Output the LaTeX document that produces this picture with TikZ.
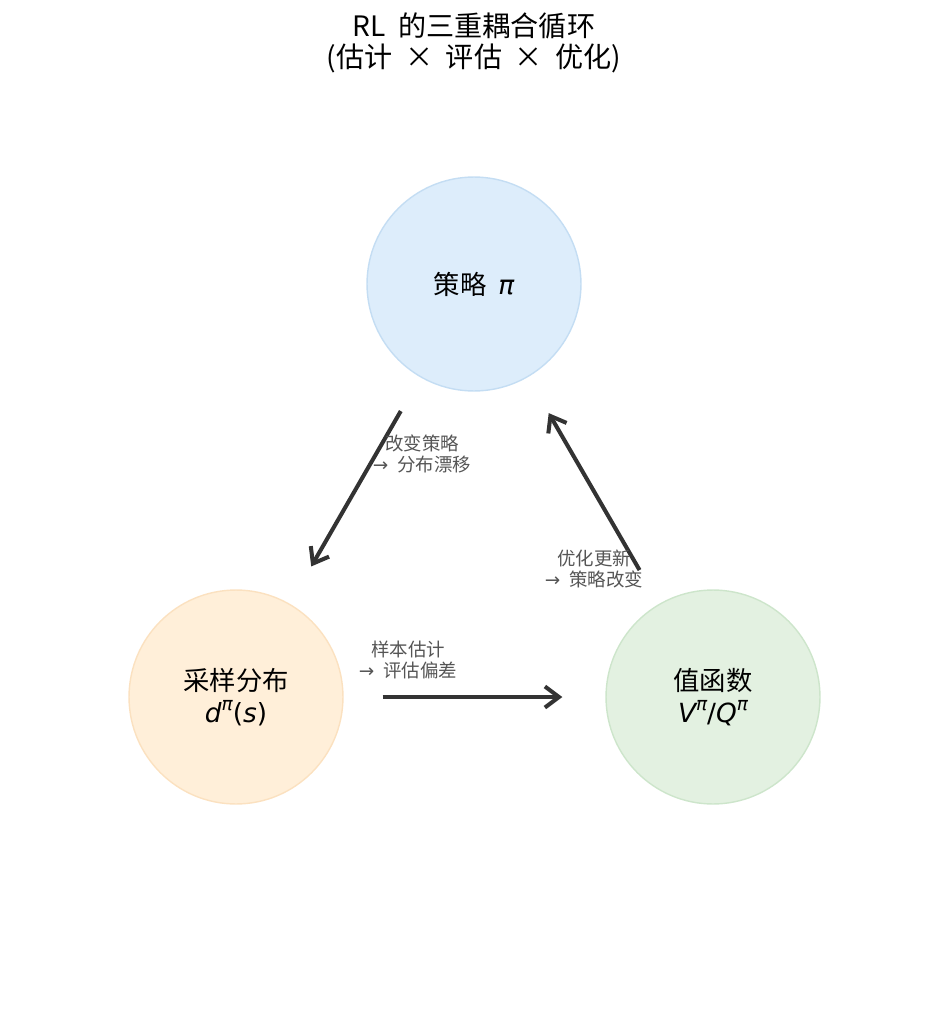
\documentclass[tikz,border=0pt]{standalone}
\usepackage{fontspec}
\setmainfont{Noto Sans CJK SC}
\newfontfamily\dvsans{DejaVu Sans}
\usetikzlibrary{arrows.meta}
\definecolor{bluefill}{HTML}{DDEDFB}
\definecolor{blueline}{HTML}{C4DDF3}
\definecolor{orangefill}{HTML}{FFEFD9}
\definecolor{orangeline}{HTML}{FBE1C0}
\definecolor{greenfill}{HTML}{E3F1E1}
\definecolor{greenline}{HTML}{CDE5CB}
\definecolor{arrowgray}{HTML}{333333}
\definecolor{notegray}{HTML}{555555}
\newcommand{\mvar}[1]{{\dvsans\itshape #1}}
\newcommand{\mrm}[1]{{\dvsans #1}}
\newcommand{\msup}[1]{\raisebox{0.8ex}{\fontsize{10.5}{10.5}\selectfont\dvsans\itshape #1}}
\newcommand{\tto}{{\dvsans →}}
\begin{document}
\begin{tikzpicture}[x=0.02cm, y=-0.02cm,
    every node/.style={inner sep=0pt},
    state/.style={circle, minimum size=4.28cm, line width=0.8pt, font=\fontsize{15}{18}\selectfont, align=center},
    cycle/.style={-{Straight Barb[length=8pt, width=12pt, line width=2.3pt]}, line width=2.3pt, arrowgray},
    note/.style={text=notegray, font=\fontsize{10.5}{12}\selectfont, align=center}]
    \useasboundingbox (0, 0) rectangle (948, 1034);
    % title
    \node[font=\fontsize{16}{17.5}\selectfont, align=center] (title) at (474, 43) {RL\ \ 的三重耦合循环\\(估计\ \ ×\ \ 评估\ \ ×\ \ 优化)};
    % states
    \node[state, fill=bluefill, draw=blueline] (policy) at (474, 284) {策略\ \ \mvar{π}};
    \node[state, fill=orangefill, draw=orangeline] (sample) at (236, 697) {采样分布\\\mvar{d}\msup{π}\mrm{(}\mvar{s}\mrm{)}};
    \node[state, fill=greenfill, draw=greenline] (value) at (713, 697) {值函数\\\mvar{V}\msup{π}\mrm{/}\mvar{Q}\msup{π}};
    % cycle
    \draw[cycle, shorten <=0.78cm, shorten >=0.86cm] (policy) -- (sample);
    \draw[cycle, shorten <=0.78cm, shorten >=0.86cm] (sample) -- (value);
    \draw[cycle, shorten <=0.78cm, shorten >=0.83cm] (value) -- (policy);
    % notes
    \node[note] (drift) at (422, 454) {改变策略\\\tto\enspace 分布漂移};
    \node[note] (update) at (594, 569) {优化更新\\\tto\enspace 策略改变};
    \node[note] (bias) at (408, 660) {样本估计\\\tto\enspace 评估偏差};
\end{tikzpicture}
\end{document}
